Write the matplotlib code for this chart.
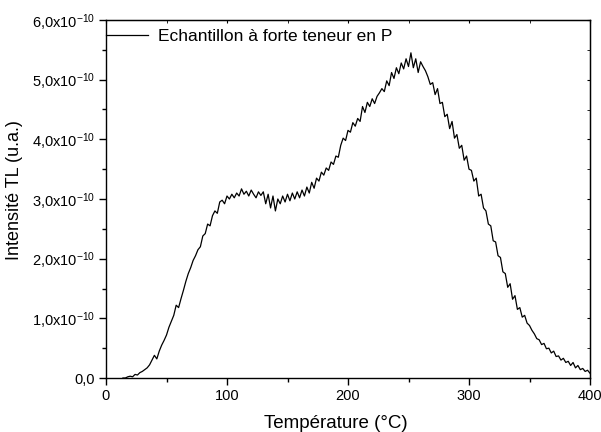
import numpy as np
import matplotlib
matplotlib.use("Agg")
import matplotlib.pyplot as plt
from matplotlib.ticker import FixedLocator, FuncFormatter

plt.rcParams['font.family'] = ['Liberation Sans', 'DejaVu Sans']
plt.rcParams['mathtext.fontset'] = 'custom'
plt.rcParams['mathtext.rm'] = 'Liberation Sans'
plt.rcParams['mathtext.it'] = 'Liberation Sans'

# TL intensity (units of 1e-10), sampled every 2 °C starting at 14 °C
intensity = [
    0.00, 0.00, 0.02, 0.03, 0.02, 0.06, 0.05, 0.09, 0.11, 0.14,   # 14-32
    0.17, 0.22, 0.30, 0.38, 0.32, 0.45, 0.55, 0.63, 0.72, 0.85,   # 34-52
    0.95, 1.05, 1.22, 1.18, 1.33, 1.47, 1.62, 1.75, 1.85, 1.97,   # 54-72
    2.05, 2.15, 2.20, 2.38, 2.42, 2.58, 2.55, 2.72, 2.80, 2.76,   # 74-92
    2.95, 2.98, 2.92, 3.05, 3.00, 3.08, 3.02, 3.10, 3.05, 3.17,   # 94-112
    3.08, 3.13, 3.05, 3.15, 3.08, 3.02, 3.12, 3.06, 3.12, 2.92,   # 114-132
    3.08, 2.85, 3.05, 2.80, 3.00, 2.92, 3.05, 2.95, 3.08, 2.97,   # 134-152
    3.10, 3.00, 3.12, 3.02, 3.15, 3.05, 3.20, 3.10, 3.28, 3.18,   # 154-172
    3.35, 3.30, 3.45, 3.40, 3.52, 3.48, 3.62, 3.58, 3.72, 3.70,   # 174-192
    3.90, 4.02, 3.98, 4.15, 4.12, 4.28, 4.22, 4.35, 4.30, 4.55,   # 194-212
    4.45, 4.62, 4.55, 4.68, 4.60, 4.72, 4.78, 4.85, 4.80, 4.98,   # 214-232
    4.90, 5.12, 5.02, 5.20, 5.10, 5.28, 5.18, 5.35, 5.22, 5.45,   # 234-252
    5.20, 5.35, 5.12, 5.30, 5.22, 5.15, 5.05, 4.92, 4.95, 4.75,   # 254-272
    4.85, 4.60, 4.62, 4.38, 4.42, 4.18, 4.30, 4.02, 4.08, 3.85,   # 274-292
    3.90, 3.65, 3.72, 3.50, 3.48, 3.30, 3.35, 3.05, 3.08, 2.85,   # 294-312
    2.80, 2.58, 2.55, 2.30, 2.28, 2.05, 2.02, 1.78, 1.75, 1.52,   # 314-332
    1.58, 1.32, 1.38, 1.15, 1.18, 1.02, 1.05, 0.92, 0.88, 0.80,   # 334-352
    0.74, 0.66, 0.64, 0.56, 0.58, 0.49, 0.50, 0.42, 0.45, 0.36,   # 354-372
    0.37, 0.30, 0.33, 0.26, 0.28, 0.21, 0.26, 0.17, 0.21, 0.14,   # 374-392
    0.16, 0.11, 0.13, 0.08,                                       # 394-400
]
temperature = np.arange(14, 14 + 2 * len(intensity), 2)
x_major = [0, 100, 200, 300, 400]
x_minor = [50, 150, 250, 350]
y_major = [0.0, 1.0, 2.0, 3.0, 4.0, 5.0, 6.0]          # x 1e-10
y_minor = [0.5, 1.5, 2.5, 3.5, 4.5, 5.5]
series_label = "Echantillon à forte teneur en P"
x_label = "Température (°C)"
y_label = "Intensité TL (u.a.)"

fig = plt.figure(figsize=(6.01, 4.32), dpi=100)
ax = fig.add_axes([106/601, 1 - 378/432, (590 - 106)/601, (378 - 20)/432])

ax.plot(temperature, np.array(intensity) * 1e-10, color='black', lw=0.9, label=series_label)

ax.set_xlim(0, 400)
ax.set_ylim(0, 6e-10)
ym = [v * 1e-10 for v in y_major]
yn = [v * 1e-10 for v in y_minor]
ax.xaxis.set_major_locator(FixedLocator(x_major))
ax.xaxis.set_minor_locator(FixedLocator(x_minor))
ax.yaxis.set_major_locator(FixedLocator(ym))
ax.yaxis.set_minor_locator(FixedLocator(yn))

def yfmt(v, pos):
    m = v / 1e-10
    if abs(m) < 1e-6:
        return "0,0"
    return ("%.1f" % m).replace('.', ',') + r"x10$^{-10}$"

ax.yaxis.set_major_formatter(FuncFormatter(yfmt))
ax.tick_params(axis='both', which='major', direction='out', length=5, width=1, labelsize=10.5, pad=3)
ax.tick_params(axis='both', which='minor', direction='out', length=3, width=1)
for s in ax.spines.values():
    s.set_linewidth(1)

# small inward ticks on top and right axes
axt = ax.secondary_xaxis('top')
axt.xaxis.set_major_locator(FixedLocator(x_major))
axt.xaxis.set_minor_locator(FixedLocator(x_minor))
axt.tick_params(which='both', direction='in', length=2, labeltop=False)
axr = ax.secondary_yaxis('right')
axr.yaxis.set_major_locator(FixedLocator(ym))
axr.yaxis.set_minor_locator(FixedLocator(yn))
axr.tick_params(which='both', direction='in', length=2, labelright=False)

ax.set_xlabel(x_label, fontsize=13.5)
ax.set_ylabel(y_label, fontsize=13)
ax.xaxis.set_label_coords(0.474, -0.104)
ax.yaxis.set_label_coords(-0.172, 0.525)

ax.legend(loc='upper left', frameon=False, fontsize=12.5, handlelength=2.4,
          handletextpad=0.6, borderaxespad=0.0, borderpad=0.0,
          bbox_to_anchor=(0.0, 0.975))

fig.savefig("out.png", dpi=100)
